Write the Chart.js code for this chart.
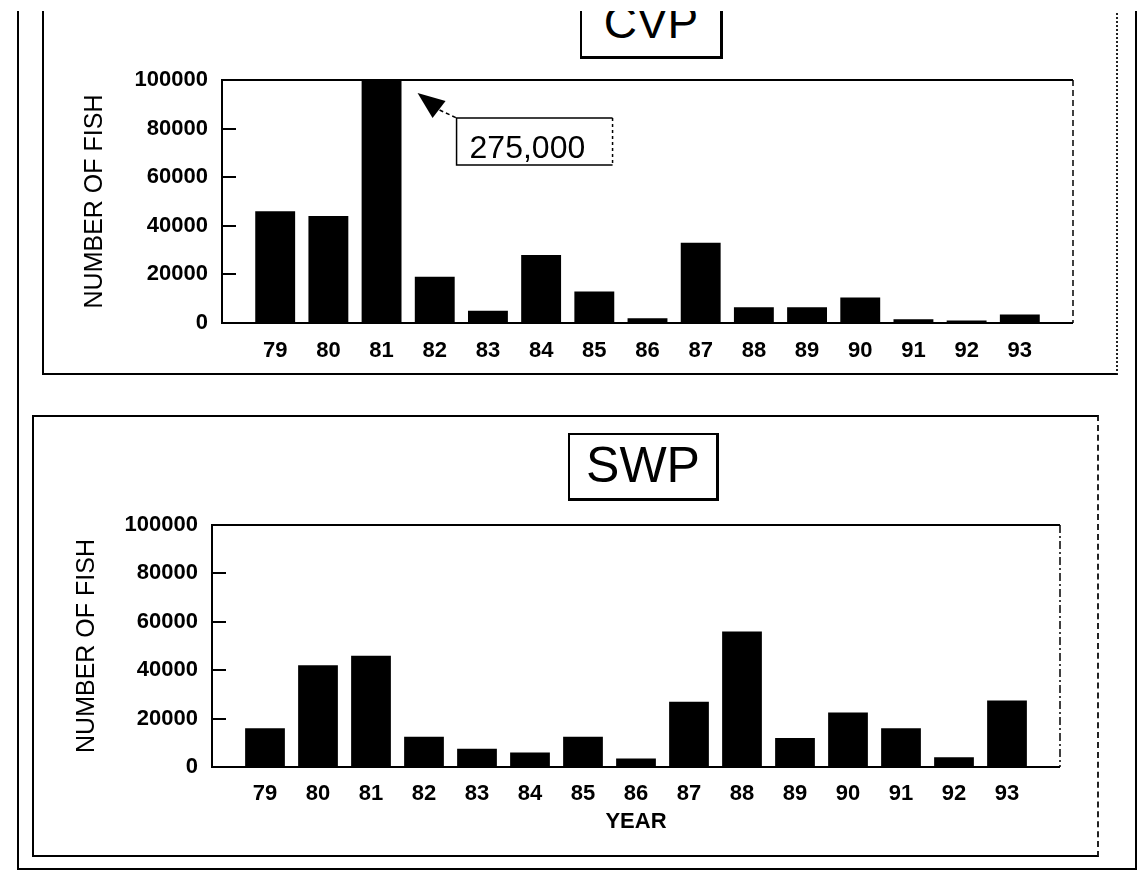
<!DOCTYPE html>
<html>
<head>
<meta charset="utf-8">
<script src="https://cdn.jsdelivr.net/npm/chart.js@4.4.1/dist/chart.umd.min.js"></script>
<style>
  html, body { margin: 0; padding: 0; background: #fff; }
  body { width: 1142px; height: 872px; position: relative; overflow: hidden;
         font-family: "Liberation Sans", Arial, sans-serif; color: #000; }
  .box { position: absolute; box-sizing: border-box; }
  #outer { left: 17px; top: -10px; width: 1120px; height: 880px;
           border: 2px solid #000; border-top: none; }
  #panelTop { left: 42px; top: -10px; width: 1076px; height: 385px;
              border-left: 2px solid #000; border-bottom: 2px solid #000; border-right: 2px dotted #222; }
  #panelBottom { left: 32px; top: 415px; width: 1067px; height: 442px;
                 border: 2px solid #000; border-right: 2px dashed #222; }
  .tag { position: absolute; box-sizing: border-box; border: 2px solid #000;
         border-bottom-width: 3px; border-right-width: 3px; background: #fff;
         font-weight: normal; text-align: center; }
  #tagCVP { left: 580px; top: -12px; width: 143px; height: 71px; font-size: 46px;
            line-height: 46px; padding-top: 9px; }
  #tagSWP { left: 568px; top: 433px; width: 151px; height: 68px; font-size: 50px; line-height: 60px; }
  #scanEdge { position: absolute; left: 0; top: 0; width: 1142px; height: 11px; background: #fff; }
  canvas { position: absolute; left: 0; }
</style>
</head>
<body>
<div class="box" id="outer"></div>
<div class="box" id="panelTop"></div>
<div class="box" id="panelBottom"></div>
<canvas id="cvp-chart" width="1142" height="372" style="top:0"></canvas>
<canvas id="swp-chart" width="1142" height="472" style="top:400px"></canvas>
<div class="tag" id="tagCVP">CVP</div>
<div class="tag" id="tagSWP">SWP</div>
<div id="scanEdge"></div>
<script>
// Datos (numero de peces por ano)
const years = [79, 80, 81, 82, 83, 84, 85, 86, 87, 88, 89, 90, 91, 92, 93];
const cvpFish = [46000, 44000, 275000, 19000, 5000, 28000, 13000, 2000, 33000, 6500, 6500, 10500, 1500, 1000, 3500];
const swpFish = [16000, 42000, 46000, 12500, 7500, 6000, 12500, 3500, 27000, 56000, 12000, 22500, 16000, 4000, 27500];
const yTicks = [0, 20000, 40000, 60000, 80000, 100000];

Chart.defaults.font.family = "'Liberation Sans', Arial, sans-serif";
Chart.defaults.color = '#000';

// Marco del area de datos y marcas interiores del eje Y
const plotFrame = {
    id: 'plotFrame',
    afterDatasetsDraw(chart, args, opts) {
        const { ctx, chartArea: a, scales: { y } } = chart;
        ctx.save();
        ctx.strokeStyle = '#000';
        ctx.lineWidth = 2;
        ctx.beginPath();
        ctx.moveTo(a.right, a.top);
        ctx.lineTo(a.left, a.top);
        ctx.lineTo(a.left, a.bottom);
        ctx.lineTo(a.right, a.bottom);
        ctx.stroke();
        ctx.lineWidth = 1.5;
        ctx.setLineDash(opts.rightDash || []);
        ctx.beginPath();
        ctx.moveTo(a.right, a.top);
        ctx.lineTo(a.right, a.bottom);
        ctx.stroke();
        ctx.setLineDash([]);
        ctx.lineWidth = 2;
        y.ticks.forEach(t => {
            if (t.value <= y.min || t.value >= y.max) return;
            const py = Math.round(y.getPixelForValue(t.value));
            ctx.beginPath();
            ctx.moveTo(a.left, py);
            ctx.lineTo(a.left + 14, py);
            ctx.stroke();
        });
        ctx.restore();
    }
};

// Nota para barras que salen de la escala
const offScaleNote = {
    id: 'offScaleNote',
    afterDatasetsDraw(chart, args, opts) {
        if (!opts.enabled) return;
        const { ctx, chartArea: a, scales: { x, y } } = chart;
        const ds = chart.data.datasets[0];
        ds.data.forEach(p => {
            if (p.y <= y.max) return;
            const bx = x.getPixelForValue(p.x);
            const tipX = bx + 36, tipY = a.top + 13;
            ctx.save();
            ctx.fillStyle = '#000';
            ctx.strokeStyle = '#000';
            ctx.beginPath();
            ctx.moveTo(tipX, tipY);
            ctx.lineTo(tipX + 28, tipY + 8);
            ctx.lineTo(tipX + 15, tipY + 25);
            ctx.closePath();
            ctx.fill();
            ctx.lineWidth = 1.5;
            ctx.setLineDash([4, 3]);
            ctx.beginPath();
            ctx.moveTo(tipX + 22, tipY + 17);
            ctx.lineTo(tipX + 39, tipY + 25);
            ctx.stroke();
            // caja con el valor
            const L = bx + 75, T = a.top + 38, W = 156, H = 47;
            ctx.setLineDash([]);
            ctx.beginPath();
            ctx.moveTo(L + W, T);
            ctx.lineTo(L, T);
            ctx.lineTo(L, T + H);
            ctx.lineTo(L + W, T + H);
            ctx.stroke();
            ctx.setLineDash([3, 3]);
            ctx.beginPath();
            ctx.moveTo(L + W, T);
            ctx.lineTo(L + W, T + H);
            ctx.stroke();
            ctx.font = "32px 'Liberation Sans', Arial, sans-serif";
            ctx.textBaseline = 'alphabetic';
            ctx.textAlign = 'left';
            ctx.fillText(p.y.toLocaleString('en-US'), L + 13, T + 40);
            ctx.restore();
        });
    }
};

function makeChart(id, values, lay) {
    return new Chart(document.getElementById(id), {
        type: 'bar',
        data: {
            datasets: [{
                data: years.map((yr, i) => ({ x: yr, y: values[i] })),
                backgroundColor: '#000',
                borderWidth: 0,
                barPercentage: 0.75,
                categoryPercentage: 1
            }]
        },
        options: {
            responsive: false,
            animation: false,
            events: [],
            layout: { padding: lay.padding },
            plugins: {
                legend: { display: false },
                tooltip: { enabled: false },
                plotFrame: { rightDash: lay.rightDash },
                offScaleNote: { enabled: lay.note }
            },
            scales: {
                x: {
                    type: 'linear',
                    offset: false,
                    min: years[0] - 1,
                    max: years[years.length - 1] + 1,
                    grid: { display: false },
                    border: { display: false },
                    ticks: {
                        stepSize: 1,
                        autoSkip: false,
                        maxRotation: 0,
                        padding: lay.xPad,
                        font: { size: 22, weight: 'bold' },
                        callback: v => years.includes(v) ? String(v) : ''
                    },
                    title: {
                        display: !!lay.xTitle,
                        text: lay.xTitle || '',
                        padding: { top: 0, bottom: 37 },
                        font: { size: 22, weight: 'bold' }
                    },
                    afterFit: s => { s.height = lay.xHeight; }
                },
                y: {
                    min: yTicks[0],
                    max: yTicks[yTicks.length - 1],
                    grid: { display: false },
                    border: { display: false },
                    ticks: {
                        stepSize: yTicks[1] - yTicks[0],
                        padding: 6,
                        font: { size: 22, weight: 'bold' },
                        callback: v => String(v)
                    },
                    title: {
                        display: true,
                        text: 'NUMBER OF FISH',
                        padding: 0,
                        font: { size: 25, weight: 'normal' }
                    },
                    afterFit: s => { s.width = lay.yWidth; }
                }
            }
        },
        plugins: [plotFrame, offScaleNote]
    });
}

const cvpChart = makeChart('cvp-chart', cvpFish, {
    padding: { left: 80, right: 69, top: 80, bottom: 0 },
    yWidth: 142, xHeight: 49, xPad: 7, rightDash: [6, 4], note: true
});

const swpChart = makeChart('swp-chart', swpFish, {
    padding: { left: 72, right: 82, top: 125, bottom: 0 },
    yWidth: 140, xHeight: 105, xPad: 6, rightDash: [8, 3, 2, 3], note: false,
    xTitle: 'YEAR'
});
</script>
</body>
</html>
